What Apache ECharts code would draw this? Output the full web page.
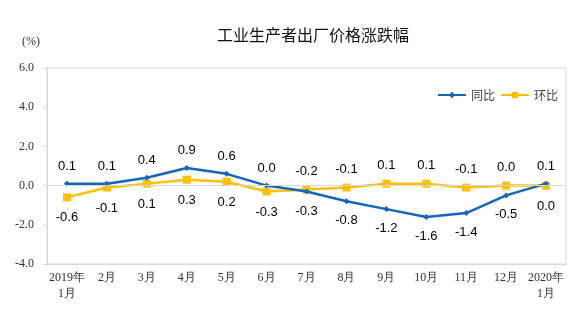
<!DOCTYPE html>
<html>
<head>
<meta charset="utf-8">
<script src="https://cdn.jsdelivr.net/npm/echarts@6/dist/echarts.min.js"></script>
<style>
  html, body { margin: 0; padding: 0; background: #fff; }
  #chart { width: 574px; height: 333px; }
</style>
</head>
<body>
<div id="chart"></div>
<script>
// Monthly categories, Jan 2019 to Jan 2020
const categories = ['2019年\n1月', '2月', '3月', '4月', '5月', '6月', '7月', '8月', '9月', '10月', '11月', '12月', '2020年\n1月'];
// Year-on-year change (%)
const yoy = [0.1, 0.1, 0.4, 0.9, 0.6, 0.0, -0.3, -0.8, -1.2, -1.6, -1.4, -0.5, 0.1];
// Month-on-month change (%)
const mom = [-0.6, -0.1, 0.1, 0.3, 0.2, -0.3, -0.2, -0.1, 0.1, 0.1, -0.1, 0.0, 0.0];
// Label side for each point of the year-on-year line (the other line uses the opposite side)
const yoyLabelAbove = [true, true, true, true, true, true, false, false, false, false, false, false, true];

const labelFont = { fontFamily: 'Liberation Sans, Arial, sans-serif', fontSize: 13, color: '#000' };

function withLabels(values, aboveFlags) {
  return values.map((v, i) => ({
    value: v,
    label: { position: aboveFlags[i] ? 'top' : 'bottom', distance: aboveFlags[i] ? 8 : 10 }
  }));
}

const chart = echarts.init(document.getElementById('chart'));
chart.setOption({
  animation: false,
  title: {
    text: '工业生产者出厂价格涨跌幅',
    left: 212,
    top: 22,
    textStyle: { fontFamily: 'Noto Sans CJK SC, sans-serif', fontSize: 16, fontWeight: 'normal', color: '#111' }
  },
  graphic: [{
    type: 'text',
    left: 22,
    top: 36,
    style: { text: '(%)', font: '12px Liberation Serif, Times New Roman, serif', fill: '#333' }
  }],
  legend: {
    right: 11,
    top: 84,
    itemWidth: 28,
    itemHeight: 8,
    itemGap: 5,
    textStyle: { fontFamily: 'Noto Sans CJK SC, sans-serif', fontSize: 12, color: '#444' },
    data: ['同比', '环比']
  },
  grid: {
    left: 47, right: 8, top: 68, bottom: 69,
    show: true, borderColor: '#d9d9d9', borderWidth: 1
  },
  xAxis: {
    type: 'category',
    data: categories,
    boundaryGap: true,
    axisLine: { onZero: false, lineStyle: { color: '#d9d9d9' } },
    axisTick: { show: false },
    axisLabel: {
      interval: 0, margin: 6, lineHeight: 16,
      fontFamily: 'Liberation Serif, Times New Roman, serif', fontSize: 12, color: '#333'
    }
  },
  yAxis: {
    type: 'value',
    min: -4, max: 6, interval: 2,
    axisLine: { show: true, lineStyle: { color: '#d9d9d9' } },
    axisTick: { show: true, length: 4, lineStyle: { color: '#d9d9d9' } },
    splitLine: { show: false },
    axisLabel: {
      margin: 13,
      formatter: v => v.toFixed(1),
      fontFamily: 'Liberation Serif, Times New Roman, serif', fontSize: 12, color: '#333'
    }
  },
  series: [
    {
      name: '同比',
      type: 'line',
      data: withLabels(yoy, yoyLabelAbove),
      z: 3,
      symbol: 'diamond',
      symbolSize: 6,
      lineStyle: { color: '#1565C0', width: 2.5 },
      itemStyle: { color: '#1565C0' },
      label: Object.assign({ show: true, formatter: p => p.value.toFixed(1) }, labelFont),
      markLine: {
        silent: true,
        symbol: 'none',
        label: { show: false },
        lineStyle: { color: '#d9d9d9', width: 1, type: 'solid' },
        data: [{ yAxis: 0 }]
      }
    },
    {
      name: '环比',
      type: 'line',
      data: withLabels(mom, yoyLabelAbove.map(f => !f)),
      z: 2,
      symbol: 'rect',
      symbolSize: 8,
      lineStyle: { color: '#FFC000', width: 2.5 },
      itemStyle: { color: '#FFC000' },
      label: Object.assign({ show: true, formatter: p => p.value.toFixed(1) }, labelFont)
    }
  ]
});
</script>
</body>
</html>
